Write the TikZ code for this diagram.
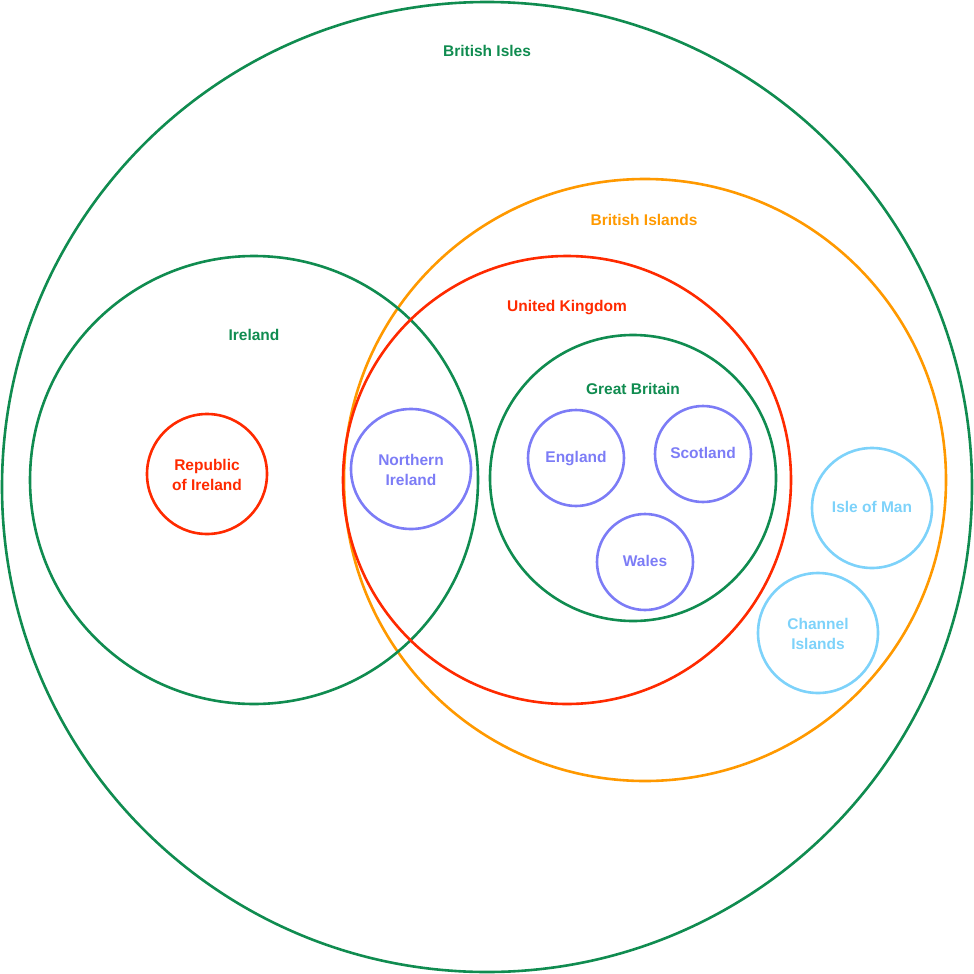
\documentclass[tikz,border=0pt]{standalone}
\usepackage{fontspec}
\setmainfont{Liberation Sans}
\usepackage{xcolor}

\definecolor{isgreen}{RGB}{16,140,80}
\definecolor{isorange}{RGB}{255,153,0}
\definecolor{isred}{RGB}{255,42,0}
\definecolor{isblue}{RGB}{124,124,246}
\definecolor{islight}{RGB}{125,210,250}

\tikzset{
  region/.style={circle, draw=#1, line width=2.6pt, inner sep=0pt},
  tag/.style={font=\fontsize{15.5}{20}\selectfont\bfseries, align=center, text=#1},
  tagin/.style={tag=#1, text depth=-1.5pt}
}

\begin{document}
\begin{tikzpicture}[x=1pt,y=-1pt]
        \useasboundingbox (0,0) rectangle (974,974);

        % large regions
        \node[region=isgreen, minimum size=970pt] (isles) at (487,487) {};
        \node[region=isorange, minimum size=602pt] (islands) at (645,480) {};
        \node[region=isgreen, minimum size=448pt] (ireland) at (254,480) {};
        \node[region=isred, minimum size=448pt] (uk) at (567,480) {};
        \node[region=isgreen, minimum size=286pt] (gb) at (633,478) {};

        % labels of the large regions
        \node[tag=isgreen] (islesl) at (487,51) {British Isles};
        \node[tag=isorange] (islandsl) at (644,220) {British Islands};
        \node[tag=isgreen] (irelandl) at (254,335) {Ireland};
        \node[tag=isred] (ukl) at (567,308) {United Kingdom};
        \node[tag=isgreen] (gbl) at (633,389) {Great Britain};

        % small regions
        \node[region=isred, minimum size=120pt, tag=isred] (roi) at (207,474) {\strut Republic\\of Ireland};
        \node[region=isblue, minimum size=120pt, tag=isblue] (ni) at (411,469) {\strut Northern\\Ireland};
        \node[region=isblue, minimum size=96pt, tag=isblue] (eng) at (576,458) {\strut England};
        \node[region=isblue, minimum size=96pt, tag=isblue] (sco) at (703,454) {\strut Scotland};
        \node[region=isblue, minimum size=96pt, tag=isblue] (wal) at (645,562) {\strut Wales};
        \node[region=islight, minimum size=120pt, tag=islight] (iom) at (872,508) {\strut Isle of Man};
        \node[region=islight, minimum size=120pt, tag=islight] (ci) at (818,633) {\strut Channel\\Islands};
    \end{tikzpicture}
\end{document}
